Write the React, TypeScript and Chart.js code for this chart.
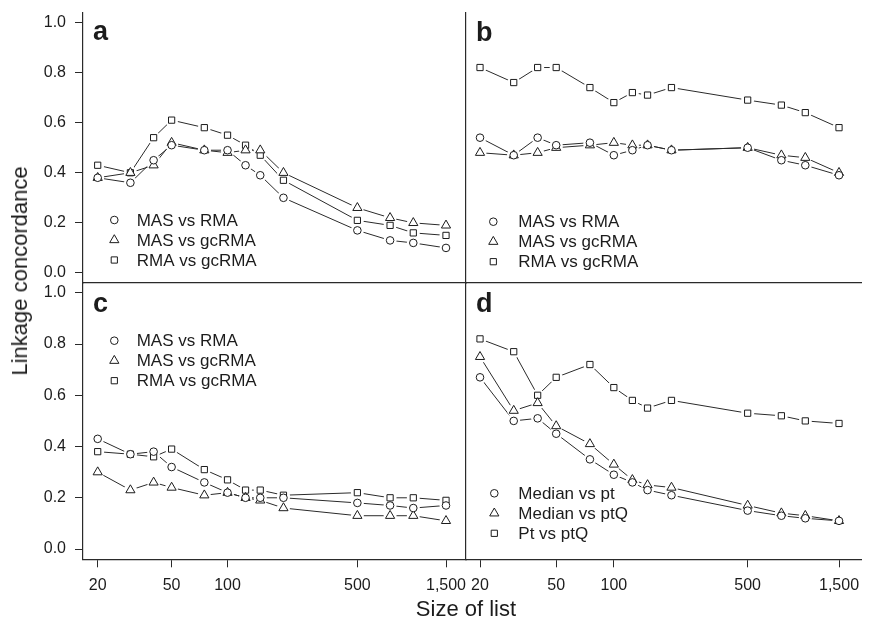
import React, { useEffect, useRef } from "react";
import { Chart, registerables } from "chart.js";

Chart.register(...registerables);

// ---------------- data ----------------
const SIZES = [20, 30, 40, 50, 75, 100, 125, 150, 200, 500, 750, 1000, 1500];
const X_TICKS = [20, 50, 100, 500, 1500];
const Y_TICKS = [0, 0.2, 0.4, 0.6, 0.8, 1.0];

const LABELS_ABC = ["MAS vs RMA", "MAS vs gcRMA", "RMA vs gcRMA"];
const LABELS_D = ["Median vs pt", "Median vs ptQ", "Pt vs ptQ"];

const A_MAS_RMA = [0.38, 0.36, 0.45, 0.51, 0.49, 0.49, 0.43, 0.39, 0.30, 0.17, 0.13, 0.12, 0.10];
const A_MAS_GCRMA = [0.38, 0.40, 0.43, 0.52, 0.49, 0.48, 0.49, 0.49, 0.40, 0.26, 0.22, 0.20, 0.19];
const A_RMA_GCRMA = [0.43, 0.40, 0.54, 0.61, 0.58, 0.55, 0.51, 0.47, 0.37, 0.21, 0.19, 0.16, 0.15];

const B_MAS_RMA = [0.54, 0.47, 0.54, 0.51, 0.52, 0.47, 0.49, 0.51, 0.49, 0.50, 0.45, 0.43, 0.39];
const B_MAS_GCRMA = [0.48, 0.47, 0.48, 0.50, 0.51, 0.52, 0.51, 0.51, 0.49, 0.50, 0.47, 0.46, 0.40];
const B_RMA_GCRMA = [0.82, 0.76, 0.82, 0.82, 0.74, 0.68, 0.72, 0.71, 0.74, 0.69, 0.67, 0.64, 0.58];

const C_MAS_RMA = [0.43, 0.37, 0.38, 0.32, 0.26, 0.22, 0.20, 0.20, 0.20, 0.18, 0.17, 0.16, 0.17];
const C_MAS_GCRMA = [0.30, 0.23, 0.26, 0.24, 0.21, 0.22, 0.20, 0.19, 0.16, 0.13, 0.13, 0.13, 0.11];
const C_RMA_GCRMA = [0.38, 0.37, 0.36, 0.39, 0.31, 0.27, 0.23, 0.23, 0.21, 0.22, 0.20, 0.20, 0.19];

const D_MEDIAN_PT = [0.67, 0.50, 0.51, 0.45, 0.35, 0.29, 0.26, 0.23, 0.21, 0.15, 0.13, 0.12, 0.11];
const D_MEDIAN_PTQ = [0.75, 0.54, 0.57, 0.48, 0.41, 0.33, 0.27, 0.25, 0.24, 0.17, 0.14, 0.13, 0.11];
const D_PT_PTQ = [0.82, 0.77, 0.60, 0.67, 0.72, 0.63, 0.58, 0.55, 0.58, 0.53, 0.52, 0.50, 0.49];

// ---------------- style / layout ----------------
const FONT = "'Liberation Sans', Arial, Helvetica, sans-serif";
const TXT = "#1c1c1c";
const AX = "#2a2a2a";
const SHAPES = ["circle", "triangle", "rect"];
const RADII = [3.8, 5.3, 4.4];
const HALO = 6.5;

const TOP_ROW = { top: 12.4, bottom: 283 };
const BOT_ROW = { top: 282.5, bottom: 559.3 };
const LEFT_COL = { left: 83, right: 466, xmin: 16.67, xmax: 1922 };
const RIGHT_COL = { left: 466, right: 861, xmin: 16.9, xmax: 1954 };

const PANELS = [
  { letter: "a", series: [A_MAS_RMA, A_MAS_GCRMA, A_RMA_GCRMA], labels: LABELS_ABC, row: TOP_ROW, col: LEFT_COL, showX: false, showY: true,
    letterDX: 10, letterDY: 27.5, legDX: 31.3, legDY: 207.6, textDX: 53.7 },
  { letter: "b", series: [B_MAS_RMA, B_MAS_GCRMA, B_RMA_GCRMA], labels: LABELS_ABC, row: TOP_ROW, col: RIGHT_COL, showX: false, showY: false,
    letterDX: 10, letterDY: 29, legDX: 27.3, legDY: 209.3, textDX: 52.3 },
  { letter: "c", series: [C_MAS_RMA, C_MAS_GCRMA, C_RMA_GCRMA], labels: LABELS_ABC, row: BOT_ROW, col: LEFT_COL, showX: true, showY: true,
    letterDX: 10, letterDY: 29, legDX: 31.3, legDY: 58.2, textDX: 53.7 },
  { letter: "d", series: [D_MEDIAN_PT, D_MEDIAN_PTQ, D_PT_PTQ], labels: LABELS_D, row: BOT_ROW, col: RIGHT_COL, showX: true, showY: false,
    letterDX: 10, letterDY: 29, legDX: 28.3, legDY: 210.8, textDX: 52.3 },
];

function drawShape(ctx: CanvasRenderingContext2D, shape: string, x: number, y: number, r: number) {
  ctx.beginPath();
  if (shape === "circle") {
    ctx.arc(x, y, r, 0, Math.PI * 2);
  } else if (shape === "triangle") {
    const t = (2 * Math.PI) / 3;
    ctx.moveTo(x, y - r);
    ctx.lineTo(x + Math.sin(t) * r, y - Math.cos(t) * r);
    ctx.lineTo(x + Math.sin(2 * t) * r, y - Math.cos(2 * t) * r);
    ctx.closePath();
  } else {
    const s = r * Math.SQRT1_2;
    ctx.rect(x - s, y - s, 2 * s, 2 * s);
  }
  ctx.fill();
  ctx.stroke();
}

const decorPlugin = {
  id: "panelDecor",
  afterDraw(chart: any, _args: any, opts: any) {
    const { ctx, chartArea } = chart;
    ctx.save();
    ctx.fillStyle = TXT;
    ctx.font = `bold 27px ${FONT}`;
    ctx.textAlign = "left";
    ctx.textBaseline = "alphabetic";
    ctx.fillText(opts.letter, chartArea.left + opts.letterDX, chartArea.top + opts.letterDY);
    ctx.font = `17px ${FONT}`;
    ctx.textBaseline = "middle";
    opts.labels.forEach((label: string, i: number) => {
      const y = chartArea.top + opts.legDY + i * 20;
      ctx.fillStyle = "#fff";
      ctx.strokeStyle = TXT;
      ctx.lineWidth = 1;
      drawShape(ctx, SHAPES[i], chartArea.left + opts.legDX, y, RADII[i]);
      ctx.fillStyle = TXT;
      ctx.fillText(label, chartArea.left + opts.textDX, y + 1);
    });
    ctx.restore();
  },
};

function buildConfig(p: any) {
  const canvasLeft = p.showY ? 0 : p.col.left - 20;
  const canvasTop = Math.floor(p.row.top - 30);
  const xH = p.showX ? 40 : 0;
  const padBottomBase = p.showX ? 2 : 30;
  const canvasHeight = Math.ceil(p.row.bottom + xH + padBottomBase - canvasTop);
  const padBottom = canvasTop + canvasHeight - xH - p.row.bottom;
  const canvasWidth = Math.ceil(p.col.right + 20 - canvasLeft);
  const padRight = canvasLeft + canvasWidth - p.col.right;
  const yW = p.showY ? p.col.left - canvasLeft : 0;
  const padLeft = p.showY ? 0 : 20;
  const padTop = p.row.top - canvasTop;

  const points = (vals: number[]) => SIZES.map((s, i) => ({ x: s, y: vals[i] }));
  const datasets: any[] = [];
  p.series.forEach((vals: number[], i: number) => {
    datasets.push({ label: p.labels[i] + " line", data: points(vals), borderColor: AX, borderWidth: 1, pointRadius: 0, showLine: true, order: 3, fill: false, tension: 0 });
  });
  p.series.forEach((vals: number[], i: number) => {
    datasets.push({ label: p.labels[i] + " gap", data: points(vals), showLine: false, pointRadius: HALO, pointStyle: "circle", pointBackgroundColor: "#fff", pointBorderWidth: 0, pointBorderColor: "#fff", order: 2 });
  });
  p.series.forEach((vals: number[], i: number) => {
    datasets.push({ label: p.labels[i], data: points(vals), showLine: false, pointRadius: RADII[i], pointStyle: SHAPES[i], pointBackgroundColor: "#fff", pointBorderColor: TXT, pointBorderWidth: 1, order: 1 });
  });

  const config: any = {
    type: "scatter",
    data: { datasets },
    options: {
      responsive: false,
      animation: false,
      events: [],
      layout: { padding: { top: padTop, right: padRight, bottom: padBottom, left: padLeft } },
      plugins: {
        legend: { display: false },
        tooltip: { enabled: false },
        panelDecor: { letter: p.letter, labels: p.labels, letterDX: p.letterDX, letterDY: p.letterDY, legDX: p.legDX, legDY: p.legDY, textDX: p.textDX },
      },
      scales: {
        x: {
          type: "logarithmic",
          position: "bottom",
          min: p.col.xmin,
          max: p.col.xmax,
          bounds: "data",
          afterBuildTicks: (s: any) => { s.ticks = X_TICKS.map((v) => ({ value: v })); },
          afterFit: (s: any) => { s.height = xH; },
          grid: { display: true, drawOnChartArea: false, drawTicks: p.showX, tickLength: 8, color: AX, tickColor: AX, lineWidth: 1 },
          border: { display: true, color: AX, width: 1.2 },
          ticks: { display: p.showX, padding: 9, autoSkip: false, maxRotation: 0, minRotation: 0, color: TXT, font: { size: 16, family: FONT },
            callback: (v: any) => Number(v).toLocaleString("en-US") },
        },
        y: {
          type: "linear",
          position: "left",
          min: -0.04,
          max: 1.04,
          bounds: "data",
          afterBuildTicks: (s: any) => { s.ticks = Y_TICKS.map((v) => ({ value: v })); },
          afterFit: (s: any) => { s.width = yW; },
          grid: { display: true, drawOnChartArea: false, drawTicks: p.showY, tickLength: 8, color: AX, tickColor: AX, lineWidth: 1 },
          border: { display: true, color: AX, width: 1.2 },
          ticks: { display: p.showY, padding: 9, color: TXT, font: { size: 16, family: FONT },
            callback: (v: any) => Number(v).toFixed(1) },
        },
      },
    },
    plugins: [decorPlugin],
  };
  return { config, box: { left: canvasLeft, top: canvasTop, width: canvasWidth, height: canvasHeight } };
}

const BUILT = PANELS.map(buildConfig);

export default function App() {
  const refs = useRef<(HTMLCanvasElement | null)[]>([]);

  useEffect(() => {
    Chart.defaults.font.family = FONT;
    const charts = BUILT.map((b, i) => new Chart(refs.current[i] as HTMLCanvasElement, b.config));
    return () => charts.forEach((c) => c.destroy());
  }, []);

  return (
    <div style={{ position: "absolute", left: 0, top: 0, width: 874, height: 620, overflow: "hidden", background: "#fff" }}>
      {BUILT.map((b, i) => (
        <canvas
          key={i}
          ref={(el) => { refs.current[i] = el; }}
          width={b.box.width}
          height={b.box.height}
          style={{ position: "absolute", left: b.box.left, top: b.box.top, width: b.box.width, height: b.box.height }}
        />
      ))}
      <div
        style={{ position: "absolute", left: 20, top: 271, transform: "translate(-50%, -50%) rotate(-90deg)", whiteSpace: "nowrap",
          fontFamily: FONT, fontSize: 22, color: TXT, lineHeight: "24px" }}
      >
        Linkage concordance
      </div>
      <div
        style={{ position: "absolute", left: 466, top: 597, transform: "translateX(-50%)", whiteSpace: "nowrap",
          fontFamily: FONT, fontSize: 22, color: TXT, lineHeight: "24px" }}
      >
        Size of list
      </div>
    </div>
  );
}
